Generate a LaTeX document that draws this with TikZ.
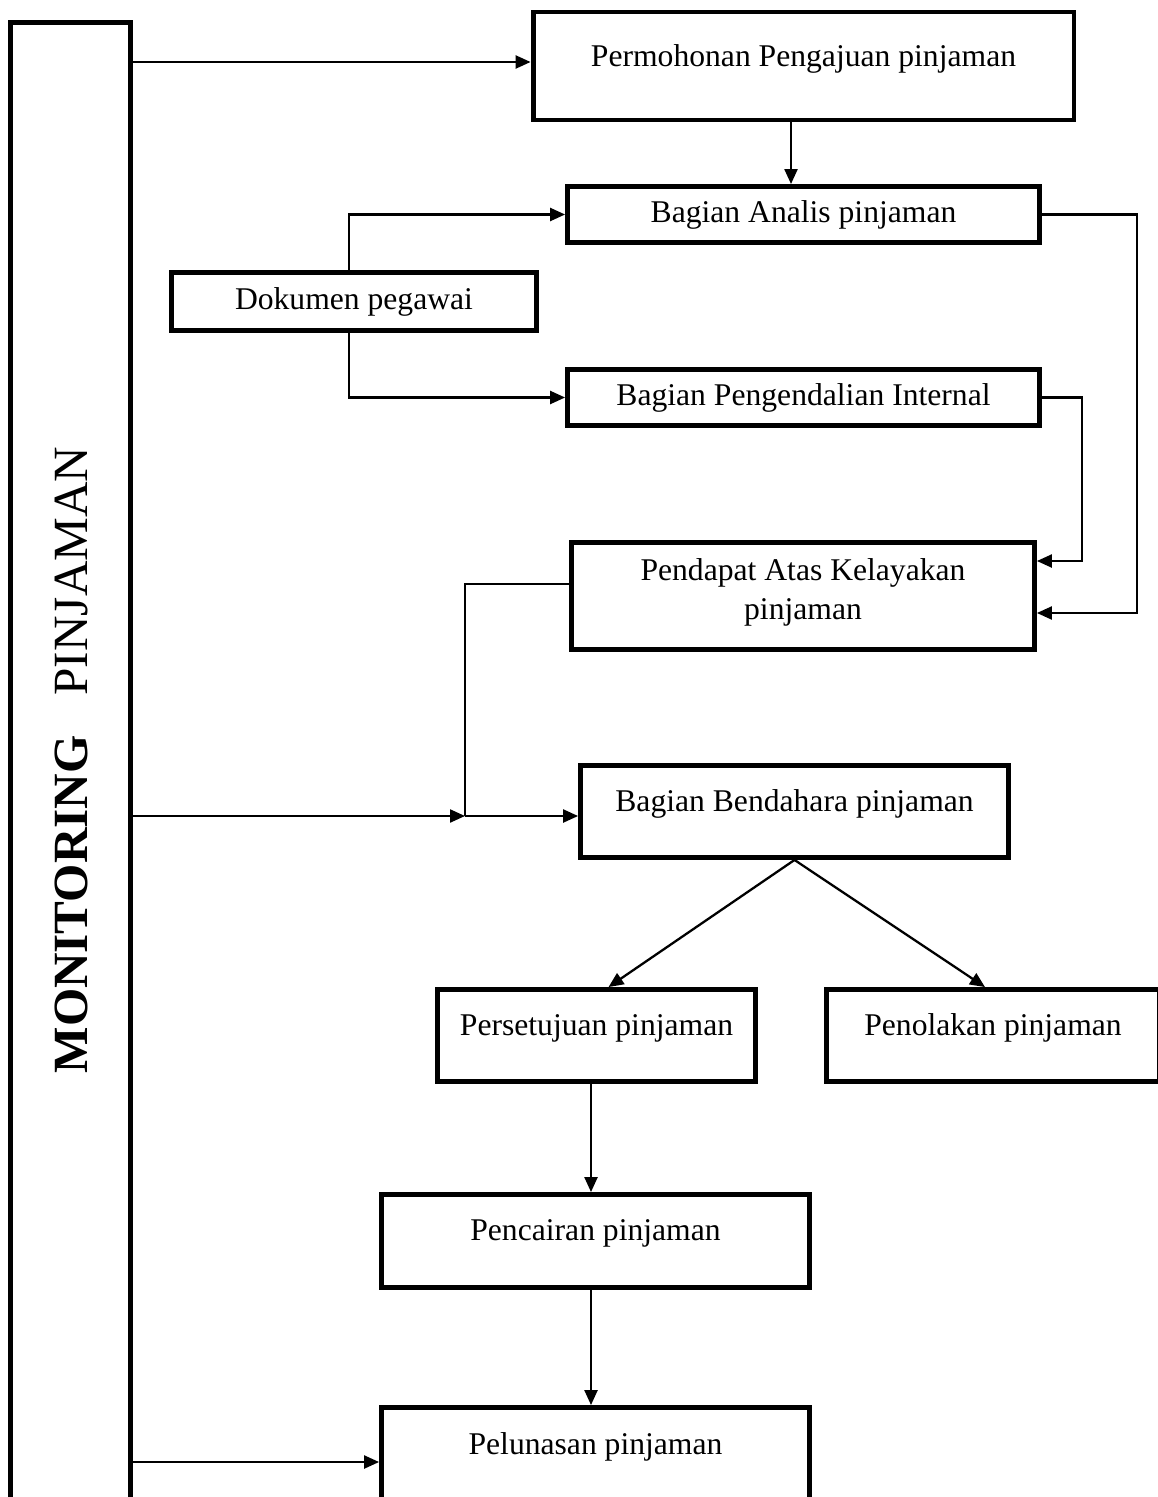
\documentclass[tikz,border=0pt]{standalone}
\usepackage{fontspec}
\setmainfont{Liberation Serif}
\usetikzlibrary{arrows.meta}
\tikzset{
  procbox/.style={draw, line width=2.8pt, align=center, inner sep=2pt,
    font=\fontsize{18}{22}\selectfont},
  raised/.style={text depth=0.43cm},
  flow/.style={line width=1.3pt, -{Triangle[length=0.3cm,width=0.26cm]}},
  link/.style={line width=1.3pt},
}

\begin{document}
\begin{tikzpicture}[x=0.02cm, y=-0.02cm]

  \useasboundingbox (0,0) rectangle (1157,1497);

  % Define nodes
  \node[draw, line width=2.8pt, minimum width=2.4cm, minimum height=31cm, anchor=north] (monitor) at (70.5,20.5) {};
  \node[rotate=90, font=\fontsize{28}{32}\selectfont] (title) at (71,760) {\textbf{MONITORING}\hspace{0.8cm}PINJAMAN};

  \node[procbox, raised, minimum width=10.82cm, minimum height=2.16cm] (perm) at (803.5,66) {Permohonan Pengajuan pinjaman};
  \node[procbox, minimum width=9.44cm, minimum height=1.12cm] (analis) at (803.5,214.5) {Bagian Analis pinjaman};
  \node[procbox, minimum width=7.3cm, minimum height=1.16cm] (dokumen) at (354,301.5) {Dokumen pegawai};
  \node[procbox, minimum width=9.44cm, minimum height=1.12cm] (kendali) at (803.5,397.5) {Bagian Pengendalian Internal};
  \node[procbox, text depth=0.27cm, minimum width=9.26cm, minimum height=2.14cm] (pendapat) at (803,596) {Pendapat Atas Kelayakan\\pinjaman};
  \node[procbox, raised, minimum width=8.56cm, minimum height=1.84cm] (bendahara) at (794.5,811.5) {Bagian Bendahara pinjaman};
  \node[procbox, raised, minimum width=6.36cm, minimum height=1.84cm] (setuju) at (596.5,1035.5) {Persetujuan pinjaman};
  \node[procbox, raised, minimum width=6.66cm, minimum height=1.84cm] (tolak) at (993,1035.5) {Penolakan pinjaman};
  \node[procbox, raised, minimum width=8.56cm, minimum height=1.86cm] (cair) at (595.5,1241) {Pencairan pinjaman};
  \node[procbox, raised, minimum width=8.56cm, minimum height=1.86cm] (lunas) at (595.5,1454) {Pelunasan pinjaman};

  \coordinate (join) at (465,816);

  % Connect nodes
  \draw[flow] (monitor.east |- 0,62) -- (perm.west |- 0,62);
  \draw[flow] ([xshift=-0.25cm]perm.south) -- ([xshift=-0.25cm]perm.south |- analis.north);

  \draw[flow] ([xshift=-0.1cm]dokumen.north) |- (analis.west);
  \draw[flow] ([xshift=-0.1cm]dokumen.south) |- (kendali.west);

  \draw[flow] (kendali.east) -- ++(40,0) |- ([yshift=0.7cm]pendapat.east);
  \draw[flow] (analis.east) -- ++(95,0) |- ([yshift=-0.34cm]pendapat.east);

  \draw[link] ([yshift=0.24cm]pendapat.west) -| (join);
  \draw[flow] (monitor.east |- join) -- (join);
  \draw[flow] (join) -- (bendahara.west |- join);

  \draw[flow] (bendahara.south) -- ([xshift=0.24cm]setuju.north);
  \draw[flow] (bendahara.south) -- ([xshift=-0.16cm]tolak.north);

  \draw[flow] ([xshift=-0.09cm]cair.north |- setuju.south) -- ([xshift=-0.09cm]cair.north);
  \draw[flow] ([xshift=-0.09cm]cair.south) -- ([xshift=-0.09cm]lunas.north);
  \draw[flow] (monitor.east |- 0,1462) -- (lunas.west |- 0,1462);

\end{tikzpicture}
\end{document}
